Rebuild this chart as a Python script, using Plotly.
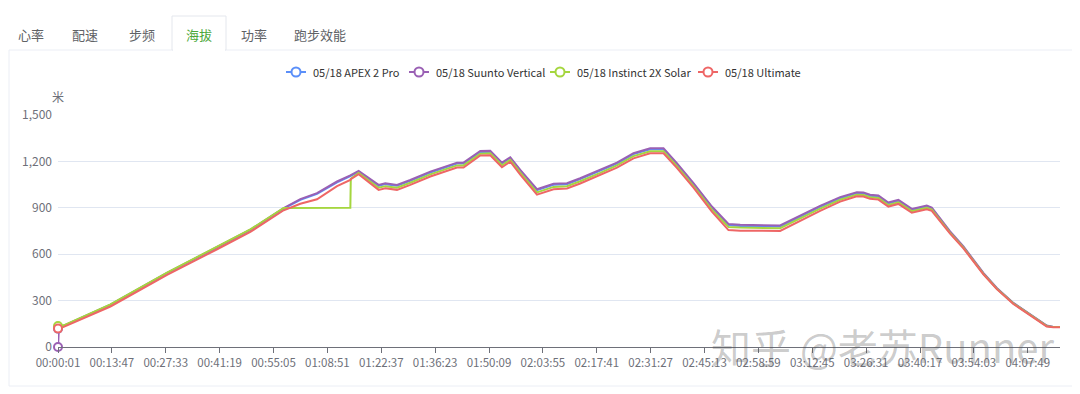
import plotly.graph_objects as go

# ---------------- data ----------------
time_s = [1, 15, 89, 805, 1673, 2440, 2950, 3461, 3686, 3716, 3972, 4279, 4483, 4490,
          4610, 4916, 5019, 5198, 5402, 5709, 6118, 6219, 6475, 6628, 6807, 6935, 7088,
          7344, 7598, 7804, 8007, 8314, 8570, 8824, 9080, 9284, 9489, 9744, 10026, 10280,
          10460, 11072, 11328, 11685, 11992, 12248, 12349, 12451, 12579, 12731, 12885,
          13091, 13320, 13397, 13678, 13882, 14188, 14394, 14648, 14903, 15159, 15260, 15363]

apex2pro = [119, 122, 136, 272, 477, 644, 756, 895, 941, 951, 990, 1064, 1104, 1106,
            1132, 1042, 1053, 1042, 1074, 1128, 1186, 1186, 1261, 1263, 1186, 1221, 1139,
            1014, 1049, 1053, 1085, 1139, 1186, 1247, 1279, 1279, 1182, 1053, 902, 788,
            783, 779, 833, 906, 962, 995, 993, 978, 973, 928, 945,
            887, 909, 896, 742, 646, 476, 379, 283, 208, 137, 130, 130]

suunto_vertical = [0, 120, 138, 274, 479, 646, 758, 898, 945, 956, 995, 1070, 1110, 1112,
                   1138, 1048, 1059, 1048, 1080, 1134, 1192, 1192, 1267, 1269, 1192, 1227, 1145,
                   1020, 1055, 1059, 1091, 1145, 1192, 1253, 1285, 1285, 1188, 1059, 908, 795,
                   790, 786, 840, 913, 969, 1001, 999, 984, 979, 934, 951,
                   893, 915, 902, 747, 650, 479, 382, 285, 210, 139, 130, 130]

instinct2x = [135, 138, 140, 276, 481, 648, 760, 899, 900, 900, 900, 900, 900, 1088,
              1125, 1030, 1040, 1030, 1062, 1116, 1174, 1174, 1250, 1252, 1175, 1210, 1128,
              1000, 1035, 1040, 1072, 1126, 1174, 1234, 1266, 1266, 1170, 1040, 888, 776,
              772, 768, 822, 895, 952, 985, 983, 968, 963, 918, 935,
              878, 900, 888, 738, 642, 473, 377, 281, 206, 135, 130, 130]

ultimate = [119, 121, 130, 262, 466, 632, 744, 884, 920, 926, 955, 1040, 1080, 1085,
            1117, 1016, 1027, 1016, 1048, 1102, 1160, 1160, 1238, 1240, 1162, 1198, 1115,
            985, 1020, 1025, 1057, 1112, 1160, 1220, 1252, 1252, 1158, 1030, 875, 756,
            752, 750, 805, 880, 940, 975, 973, 958, 953, 908, 925,
            868, 890, 880, 733, 638, 470, 374, 278, 203, 132, 128, 128]

series_names = ["05/18 APEX 2 Pro", "05/18 Suunto Vertical", "05/18 Instinct 2X Solar", "05/18 Ultimate"]
series_values = [apex2pro, suunto_vertical, instinct2x, ultimate]
series_colors = ["#5B8FF9", "#9A60B4", "#A5D63F", "#EE6666"]

x_tick_labels = ["00:00:01", "00:13:47", "00:27:33", "00:41:19", "00:55:05", "01:08:51",
                 "01:22:37", "01:36:23", "01:50:09", "02:03:55", "02:17:41", "02:31:27",
                 "02:45:13", "02:58:59", "03:12:45", "03:26:31", "03:40:17", "03:54:03", "04:07:49"]
y_ticks = [0, 300, 600, 900, 1200, 1500]
tabs = ["心率", "配速", "步频", "海拔", "功率", "跑步效能"]
active_tab = "海拔"


def to_sec(s):
    h, m, sec = s.split(":")
    return int(h) * 3600 + int(m) * 60 + int(sec)


tick_vals = [to_sec(s) for s in x_tick_labels]

# ---------------- layout geometry ----------------
# the page body has an 8px margin, so the figure is drawn 8px smaller and
# all reference pixel positions are shifted by -8.
OFF = 8
W, H = 1080 - OFF, 394 - OFF
PL, PR, PT, PB = 58 - OFF, 1060 - OFF, 115 - OFF, 347 - OFF
XS = PR - PL
YS = PB - PT


def xp(px):  # reference pixel -> paper
    return (px - OFF - PL) / XS


def yp(py):
    return (PB - (py - OFF)) / YS


FONT = "Noto Sans CJK SC, Noto Sans, sans-serif"

fig = go.Figure()
for name, vals, col in zip(series_names, series_values, series_colors):
    fig.add_trace(go.Scatter(x=time_s, y=vals, mode="lines", name=name,
                             line=dict(color=col, width=2), showlegend=False,
                             hoverinfo="skip"))
for name, vals, col in zip(series_names, series_values, series_colors):
    fig.add_trace(go.Scatter(x=time_s[:1], y=vals[:1], mode="markers", name=name,
                             marker=dict(size=8, color="white", line=dict(color=col, width=2)),
                             showlegend=False, cliponaxis=False, hoverinfo="skip"))

shapes = []
# card
shapes.append(dict(type="rect", xref="paper", yref="paper", x0=xp(9), x1=xp(1077), y0=yp(386), y1=yp(50),
                   line=dict(color="#EBEEF5", width=1), fillcolor="rgba(0,0,0,0)", layer="below"))
# active tab box
shapes.append(dict(type="rect", xref="paper", yref="paper", x0=xp(172), x1=xp(226), y0=yp(50), y1=yp(16),
                   line=dict(color="#E4E7ED", width=1), fillcolor="white", layer="below"))
shapes.append(dict(type="line", xref="paper", yref="paper", x0=xp(173), x1=xp(225), y0=yp(50), y1=yp(50),
                   line=dict(color="white", width=2), layer="below"))

annotations = []

# custom legend (echarts style: short line with hollow circle)
legend_centers = [296, 419, 560, 708]
LY = 72
for name, col, cx in zip(series_names, series_colors, legend_centers):
    shapes.append(dict(type="line", xref="paper", yref="paper", x0=xp(cx - 10), x1=xp(cx + 10),
                       y0=yp(LY), y1=yp(LY), line=dict(color=col, width=2)))
    shapes.append(dict(type="circle", xref="paper", yref="paper", x0=xp(cx - 4.5), x1=xp(cx + 4.5),
                       y0=yp(LY + 4.5), y1=yp(LY - 4.5), line=dict(color=col, width=2), fillcolor="white"))
    annotations.append(dict(text=name, x=xp(cx + 15), y=yp(LY), xref="paper", yref="paper", showarrow=False,
                            xanchor="left", yanchor="middle",
                            font=dict(family=FONT, size=11, color="#333333")))

tab_centers = [31, 85, 142, 199, 254, 320]
for t, cx in zip(tabs, tab_centers):
    annotations.append(dict(text=t, x=xp(cx), y=yp(34), xref="paper", yref="paper", showarrow=False,
                            xanchor="center", yanchor="middle",
                            font=dict(family=FONT, size=13,
                                      color="#4CA83A" if t == active_tab else "#606266")))
annotations.append(dict(text="米", x=xp(58), y=yp(97), xref="paper", yref="paper", showarrow=False,
                        xanchor="center", yanchor="middle", font=dict(family=FONT, size=12, color="#6E7079")))
annotations.append(dict(text="知乎 @老苏Runner", x=xp(882), y=yp(346), xref="paper", yref="paper",
                        showarrow=False, xanchor="center", yanchor="middle",
                        font=dict(family=FONT, size=40, color="rgba(80,80,80,0.3)")))

fig.update_layout(
    width=W, height=H,
    margin=dict(l=PL, r=W - PR, t=PT, b=H - PB, pad=0),
    paper_bgcolor="white", plot_bgcolor="white",
    font=dict(family=FONT, size=12, color="#6E7079"),
    showlegend=False,
    xaxis=dict(range=[1, 15363], tickmode="array", tickvals=tick_vals, ticktext=x_tick_labels,
               showgrid=False, zeroline=False, showline=True, linecolor="#6E7079", linewidth=1,
               ticks="outside", ticklen=5, tickcolor="#6E7079",
               tickfont=dict(family=FONT, size=11.5, color="#6E7079")),
    yaxis=dict(range=[0, 1500], tickmode="array", tickvals=y_ticks,
               ticktext=[f"{v:,}" for v in y_ticks], ticklabelstandoff=5,
               showgrid=True, gridcolor="#E0E6F1", gridwidth=1, zeroline=False, showline=False,
               ticks="", tickfont=dict(family=FONT, size=12, color="#6E7079")),
    shapes=shapes, annotations=annotations,
    hovermode=False,
)

fig.write_html("out.html")
